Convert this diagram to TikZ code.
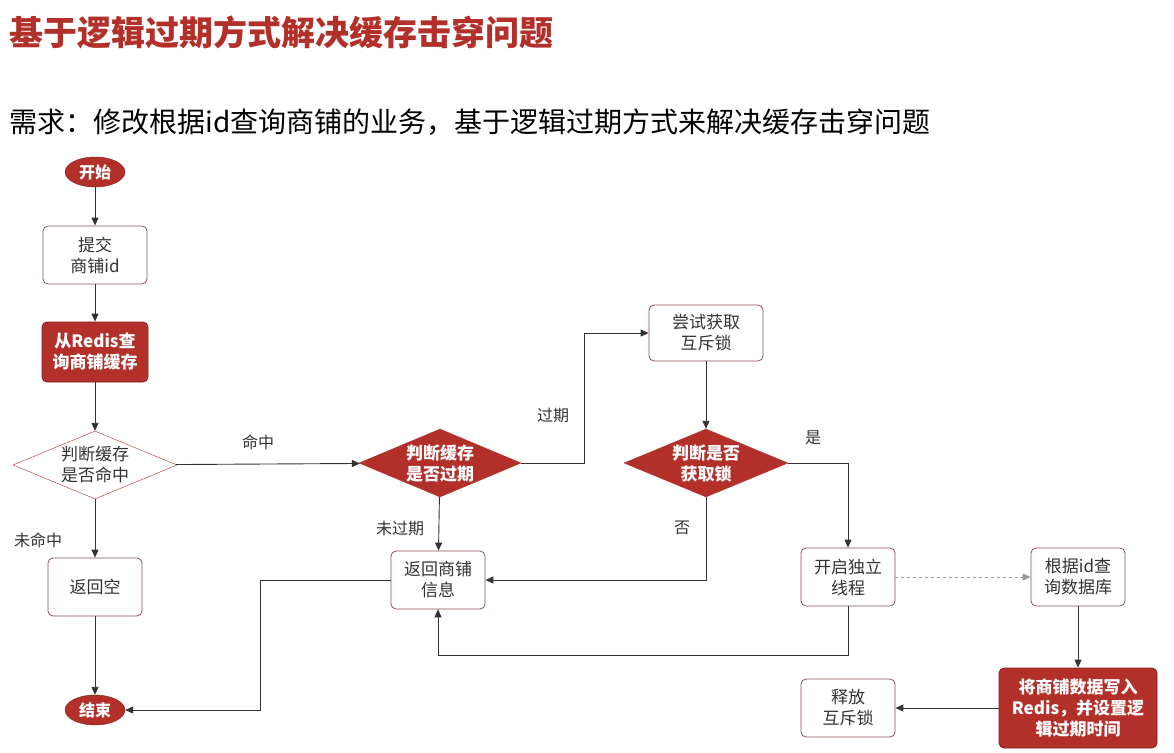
\documentclass[tikz,border=0pt]{standalone}
\usepackage{fontspec}
\setmainfont{Noto Sans CJK SC}
\usetikzlibrary{shapes.geometric,arrows.meta}
\definecolor{dred}{HTML}{B3302A}
\definecolor{edge}{HTML}{8A5050}
\begin{document}
\begin{tikzpicture}[x=1pt,y=-1pt,
  box/.style={draw=edge,rounded corners=5pt,fill=white,minimum width=#1,minimum height=58pt,align=center,font=\fontsize{17}{21}\selectfont,text=black!80,line width=0.8pt},
  rbox/.style={box=#1,fill=dred,text=white,draw=dred!70!black,font=\fontsize{17}{21}\selectfont\bfseries},
  term/.style={ellipse,fill=dred,draw=dred!70!black,minimum width=60pt,minimum height=30pt,inner sep=0pt,text=white,font=\fontsize{16}{18}\selectfont\bfseries},
  dia/.style={diamond,aspect=2.4,draw=dred,fill=white,minimum width=#1,minimum height=68pt,inner sep=0pt,align=center,font=\fontsize{17}{21}\selectfont,text=black!80},
  rdia/.style={dia=#1,fill=dred,text=white,font=\fontsize{17}{21}\selectfont\bfseries},
  arr/.style={draw=black!80,line width=0.9pt,-{Triangle[length=8pt,width=7pt]}},
  lbl/.style={font=\fontsize{16}{18}\selectfont,text=black!80}]
\useasboundingbox (0,0) rectangle (1174,752);
\fill[white] (0,0) rectangle (1174,752);
\node[anchor=west,text=dred,font=\fontsize{34}{38}\selectfont\bfseries] (title) at (6,32) {基于逻辑过期方式解决缓存击穿问题};
\node[anchor=west,font=\fontsize{28}{32}\selectfont] (req) at (6,122) {需求：修改根据id查询商铺的业务，基于逻辑过期方式来解决缓存击穿问题};
\node[term] (start) at (95,172) {开始};
\node[box=104pt] (submit) at (95,255) {提交\\商铺id};
\node[rbox=106pt,minimum height=60pt] (redis) at (95,352) {从Redis查\\询商铺缓存};
\node[dia=164pt] (d1) at (95,465) {判断缓存\\是否命中};
\node[box=94pt] (empty) at (95,587) {返回空};
\node[term] (end) at (95,710) {结束};
\node[rdia=162pt] (d2) at (440,463) {判断缓存\\是否过期};
\node[box=114pt,minimum height=56pt] (lock) at (706,333) {尝试获取\\互斥锁};
\node[rdia=164pt] (d3) at (706,463) {判断是否\\获取锁};
\node[box=94pt] (ret) at (438,580) {返回商铺\\信息};
\node[box=94pt] (thread) at (848,577) {开启独立\\线程};
\node[box=94pt] (db) at (1078,577) {根据id查\\询数据库};
\node[rbox=158pt,minimum height=80pt] (write) at (1078,708) {将商铺数据写入\\Redis，并设置逻\\辑过期时间};
\node[box=94pt] (rel) at (848,708) {释放\\互斥锁};
\draw[arr] (start) -- (submit);
\draw[arr] (submit) -- (redis);
\draw[arr] (redis) -- (d1);
\draw[arr] (d1) -- (empty);
\draw[arr] (empty) -- (end);
\draw[arr] (d1) -- (d2);
\draw[arr] (d2.east) -| (584,333) -- (lock.west);
\draw[arr] (d2) -- (ret);
\draw[arr] (lock) -- (d3);
\draw[arr] (d3.east) -| (thread.north);
\draw[arr] (d3.south) |- (ret.east);
\draw[arr] (thread.south) |- (438,655) -- (ret.south);
\draw[arr] (ret.west) -| (260,710) -- (end.east);
\draw[arr,draw=black!40,dashed] (thread) -- (db);
\draw[arr] (db) -- (write);
\draw[arr] (write) -- (rel);
\node[lbl] (l1) at (38,540) {未命中};
\node[lbl] (l2) at (258,442) {命中};
\node[lbl] (l3) at (553,415) {过期};
\node[lbl] (l4) at (400,528) {未过期};
\node[lbl] (l5) at (813,438) {是};
\node[lbl] (l6) at (682,528) {否};
\end{tikzpicture}
\end{document}
